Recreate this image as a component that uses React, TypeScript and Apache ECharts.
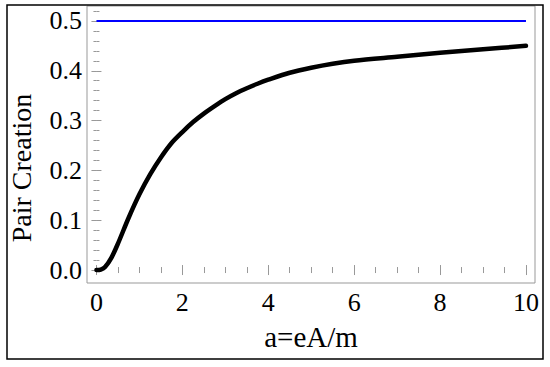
import React, { useEffect, useRef } from "react";
import * as echarts from "echarts";

const aValues = [0, 0.1, 0.2, 0.35, 0.5, 0.75, 1, 1.25, 1.5, 1.75, 2, 2.25, 2.5, 2.75, 3, 3.25, 3.5, 3.75, 4, 4.5, 5, 5.5, 6, 7, 8, 9, 10];
const pairCreation = [0, 0.001, 0.006, 0.025, 0.053, 0.105, 0.152, 0.192, 0.226, 0.255, 0.277, 0.297, 0.314, 0.329, 0.343, 0.355, 0.365, 0.374, 0.382, 0.396, 0.406, 0.414, 0.42, 0.428, 0.436, 0.443, 0.45];
const limitX = [0, 10];
const limitValue = 0.5;
const xTickLabels = [0, 2, 4, 6, 8, 10];
const yTickLabels = [0, 0.1, 0.2, 0.3, 0.4, 0.5];

const FONT = '"Liberation Serif", "Times New Roman", serif';
const FRAME = "#999999";

function minorList(start: number, end: number, step: number) {
  const out: number[] = [];
  for (let v = start; v <= end + 1e-9; v += step) out.push(Math.round(v * 1000) / 1000);
  return out;
}

export default function App() {
  const ref = useRef<HTMLDivElement>(null);
  useEffect(() => {
    if (!ref.current) return;
    const chart = echarts.init(ref.current, null, { renderer: "svg" });
    const xMin = -0.22, xMax = 10.21, yMin = -0.026, yMax = 0.53;
    const xMinor = minorList(0, 10, 0.5);
    const yMinor = minorList(0, 0.52, 0.02);
    const xAx = (pos: "top" | "bottom", major: boolean) => ({
      type: "value",
      position: pos,
      min: xMin,
      max: xMax,
      axisLine: { show: false },
      splitLine: { show: false },
      axisTick: {
        show: true,
        inside: true,
        length: major ? 5 : 3,
        lineStyle: { color: FRAME, width: 1 },
        customValues: major ? xTickLabels : xMinor,
      },
      axisLabel: {
        show: major && pos === "bottom",
        customValues: xTickLabels,
        color: "#000",
        fontFamily: FONT,
        fontSize: 26,
        margin: 6,
        formatter: (v: number) => String(v),
      },
    });
    const yAx = (pos: "left" | "right", major: boolean) => ({
      type: "value",
      position: pos,
      min: yMin,
      max: yMax,
      axisLine: { show: false },
      splitLine: { show: false },
      axisTick: {
        show: true,
        inside: true,
        length: major ? 5 : 3,
        lineStyle: { color: FRAME, width: 1 },
        customValues: major ? yTickLabels : yMinor,
      },
      axisLabel: {
        show: major && pos === "left",
        customValues: yTickLabels,
        color: "#000",
        fontFamily: FONT,
        fontSize: 26,
        margin: 5,
        formatter: (v: number) => v.toFixed(1),
      },
    });
    const xAxes: any[] = [xAx("bottom", true), xAx("bottom", false), xAx("top", true), xAx("top", false)];
    xAxes[0].name = "a=eA/m";
    xAxes[0].nameLocation = "middle";
    xAxes[0].nameGap = 39;
    xAxes[0].nameTextStyle = { color: "#000", fontFamily: FONT, fontSize: 29 };
    chart.setOption({
      animation: false,
      backgroundColor: "#fff",
      grid: {
        left: 87,
        right: 15,
        top: 6,
        bottom: 84,
        show: true,
        borderColor: FRAME,
        borderWidth: 1,
        backgroundColor: "transparent",
      },
      xAxis: xAxes,
      yAxis: [yAx("left", true), yAx("left", false), yAx("right", true), yAx("right", false)],
      graphic: [
        {
          type: "rect",
          shape: { x: 7, y: 5, width: 536, height: 354 },
          style: { fill: "none", stroke: "#000", lineWidth: 1.5 },
          silent: true,
        },
        {
          type: "text",
          x: 21,
          y: 168,
          rotation: Math.PI / 2,
          style: {
            text: "Pair Creation",
            font: `28px ${FONT}`,
            fill: "#000",
            align: "center",
            verticalAlign: "middle",
          },
        },
      ],
      series: [
        {
          type: "line",
          xAxisIndex: 0,
          yAxisIndex: 0,
          data: limitX.map((x) => [x, limitValue]),
          showSymbol: false,
          lineStyle: { color: "#0000ff", width: 2 },
        },
        {
          type: "line",
          xAxisIndex: 0,
          yAxisIndex: 0,
          data: aValues.map((a, i) => [a, pairCreation[i]]),
          showSymbol: false,
          smooth: 0.3,
          lineStyle: { color: "#000", width: 4.5, cap: "round", join: "round" },
        },
      ],
    });
    return () => chart.dispose();
  }, []);
  return (
    <div
      ref={ref}
      style={{ position: "fixed", left: 0, top: 0, width: 550, height: 367, background: "#fff" }}
    />
  );
}
